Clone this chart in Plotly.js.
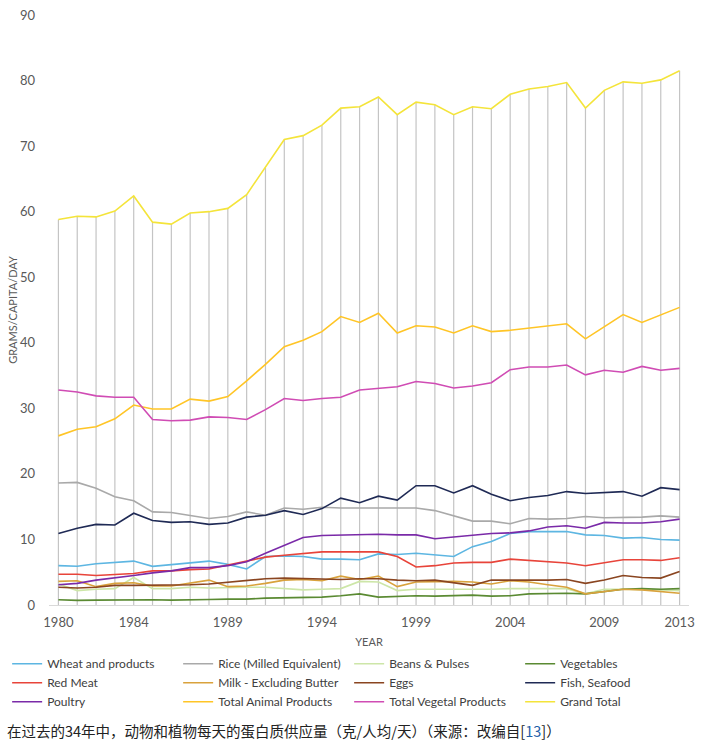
<!DOCTYPE html>
<html>
<head>
<meta charset="utf-8">
<script src="https://cdn.plot.ly/plotly-3.0.1.min.js"></script>
<style>
html,body{margin:0;padding:0;background:#fff;}
#chart{width:716px;height:747px;}
</style>
</head>
<body>
<div id="chart"></div>
<script>
const years = [1980,1981,1982,1983,1984,1985,1986,1987,1988,1989,1990,1991,1992,1993,1994,1995,1996,1997,1998,1999,2000,2001,2002,2003,2004,2005,2006,2007,2008,2009,2010,2011,2012,2013];
const xTickVals = [1980,1984,1989,1994,1999,2004,2009,2013];
const yTickVals = [0,10,20,30,40,50,60,70,80,90];

const wheat = [6.0,5.9,6.3,6.5,6.7,5.9,6.2,6.5,6.7,6.2,5.5,7.4,7.5,7.4,7.0,7.0,6.9,7.8,7.7,7.9,7.7,7.4,8.9,9.7,10.9,11.2,11.2,11.2,10.7,10.6,10.2,10.3,10.0,9.9];
const rice = [18.6,18.7,17.8,16.5,15.9,14.2,14.1,13.6,13.2,13.5,14.2,13.7,14.8,14.6,14.9,14.8,14.8,14.9,14.8,14.8,14.4,13.6,12.8,12.8,12.4,13.2,13.1,13.2,13.5,13.3,13.3,13.4,13.6,13.4];
const beans = [3.2,2.2,2.4,2.5,4.2,2.5,2.5,2.7,2.6,2.7,2.7,2.7,2.5,2.3,2.4,2.5,3.6,3.5,2.2,2.4,2.4,2.4,2.3,2.4,2.5,2.5,2.5,2.5,1.7,2.4,2.4,2.4,2.3,2.2];
const vegetables = [0.8,0.7,0.75,0.8,0.8,0.8,0.75,0.75,0.85,0.9,0.9,1.05,1.1,1.2,1.2,1.4,1.7,1.2,1.3,1.4,1.35,1.4,1.5,1.35,1.4,1.7,1.8,1.8,1.7,2.0,2.4,2.5,2.4,2.5];
const redMeat = [4.7,4.7,4.5,4.6,4.8,5.2,5.2,5.4,5.5,6.1,6.7,7.3,7.6,7.9,8.1,8.1,8.1,8.1,7.4,5.8,6.0,6.4,6.5,6.5,7.0,6.8,6.6,6.4,6.0,6.4,6.9,6.9,6.8,7.2];
const milk = [3.6,3.7,2.8,3.3,3.4,2.9,2.9,3.3,3.8,2.8,2.9,3.3,3.8,3.9,3.7,4.4,3.9,4.4,2.8,3.5,3.6,3.6,3.5,3.2,3.7,3.5,3.1,2.7,1.7,2.1,2.4,2.3,2.1,1.8];
const eggs = [2.7,2.6,2.7,3.0,3.0,3.0,3.0,3.1,3.2,3.5,3.8,4.0,4.1,4.0,3.9,3.9,4.0,4.0,3.8,3.7,3.8,3.4,3.0,3.8,3.8,3.7,3.8,3.9,3.3,3.8,4.5,4.2,4.1,5.1];
const fish = [10.9,11.7,12.3,12.2,14.0,12.9,12.6,12.7,12.3,12.5,13.4,13.7,14.4,13.8,14.7,16.3,15.6,16.6,16.0,18.2,18.2,17.1,18.2,16.9,15.9,16.4,16.7,17.3,17.0,17.1,17.3,16.6,17.9,17.6];
const poultry = [3.1,3.3,3.8,4.1,4.5,4.9,5.2,5.7,5.7,6.0,6.6,7.9,9.1,10.3,10.6,10.7,10.7,10.8,10.7,10.7,10.1,10.4,10.7,10.9,11.0,11.3,11.9,12.1,11.7,12.6,12.5,12.5,12.7,13.1];
const totalAnimal = [25.8,26.8,27.2,28.4,30.5,29.9,29.9,31.4,31.1,31.8,34.2,36.7,39.4,40.4,41.7,44.0,43.1,44.5,41.5,42.6,42.4,41.5,42.6,41.7,41.9,42.2,42.6,42.9,40.6,42.5,44.3,43.1,44.2,45.4];
const totalVegetal = [32.8,32.5,31.9,31.7,31.7,28.3,28.1,28.2,28.7,28.6,28.3,29.8,31.5,31.2,31.5,31.7,32.8,33.0,33.3,34.1,33.8,33.1,33.4,33.9,35.9,36.3,36.3,36.6,35.1,35.8,35.5,36.4,35.8,36.1];
const grandTotal = [58.8,59.3,59.2,60.1,62.4,58.4,58.1,59.8,60.0,60.5,62.6,66.7,71.0,71.6,73.2,75.8,76.0,77.5,74.8,76.7,76.3,74.8,76.0,75.7,77.9,78.7,79.1,79.7,75.8,78.5,79.8,79.6,80.1,81.5];

const seriesNames = ["Wheat and products","Rice (Milled Equivalent)","Beans & Pulses","Vegetables","Red Meat","Milk - Excluding Butter","Eggs","Fish, Seafood","Poultry","Total Animal Products","Total Vegetal Products","Grand Total"];
const seriesData = [wheat,rice,beans,vegetables,redMeat,milk,eggs,fish,poultry,totalAnimal,totalVegetal,grandTotal];
const seriesColors = ["#5DB6E2","#A9A9A9","#CDE6A8","#5A8A32","#E8443A","#D9A23C","#8A4520","#1F2A55","#7A2AA8","#FFC526","#D04CB4","#F4E43A"];

const traces = [];
// drop lines from Grand Total down to the axis
traces.push({
  x: years, y: grandTotal, type: 'scatter', mode: 'lines',
  line: {color: 'rgba(0,0,0,0)', width: 0},
  showlegend: false, hoverinfo: 'skip',
  error_y: {type: 'data', symmetric: false, array: years.map(() => 0), arrayminus: grandTotal, width: 0, thickness: 1.2, color: '#C4C4C4'}
});
seriesNames.forEach((n, i) => {
  traces.push({
    x: years, y: seriesData[i], name: n, type: 'scatter', mode: 'lines',
    line: {color: seriesColors[i], width: 1.6}
  });
});

const layout = {
  width: 716, height: 747,
  margin: {l: 49, r: 26.5, t: 15, b: 142, autoexpand: false},
  paper_bgcolor: '#fff', plot_bgcolor: '#fff',
  font: {family: 'Lato, "Open Sans", sans-serif', color: '#595959', size: 13},
  showlegend: true,
  xaxis: {
    range: [1979.5, 2013.5], tickvals: xTickVals, ticktext: xTickVals.map(String),
    showgrid: false, zeroline: false, showline: true, linecolor: '#D9D9D9', linewidth: 1,
    ticks: '', tickfont: {size: 13, color: '#595959'}, ticklabelstandoff: 5, automargin: false,
    title: {text: 'YEAR', font: {size: 11, color: '#595959'}, standoff: 9}
  },
  yaxis: {
    range: [0, 90], tickvals: yTickVals, showgrid: false, zeroline: false, showline: false,
    ticks: '', tickfont: {size: 13, color: '#595959'}, ticklabelstandoff: 13, automargin: false,
    title: {text: 'GRAMS/CAPITA/DAY', font: {size: 11, color: '#595959'}, standoff: 0}
  },
  legend: {
    orientation: 'h', x: -0.0654, xanchor: 'left', y: -0.075, yanchor: 'top',
    entrywidth: 126, entrywidthmode: 'pixels', itemwidth: 30,
    font: {size: 12, color: '#404040'}, tracegroupgap: 0, bgcolor: 'rgba(0,0,0,0)'
  },
  annotations: [{
    xref: 'paper', yref: 'paper', x: -0.0694, y: -0.191, xanchor: 'left', yanchor: 'top',
    showarrow: false, align: 'left',
    text: '在过去的34年中，动物和植物每天的蛋白质供应量（克/人均/天）（来源：改编自[<span style="color:#1F5FA8">13</span>]）',
    font: {family: '"Noto Sans CJK SC", sans-serif', size: 14.5, color: '#222'}
  }]
};

Plotly.newPlot('chart', traces, layout, {displayModeBar: false, staticPlot: true});
</script>
</body>
</html>
